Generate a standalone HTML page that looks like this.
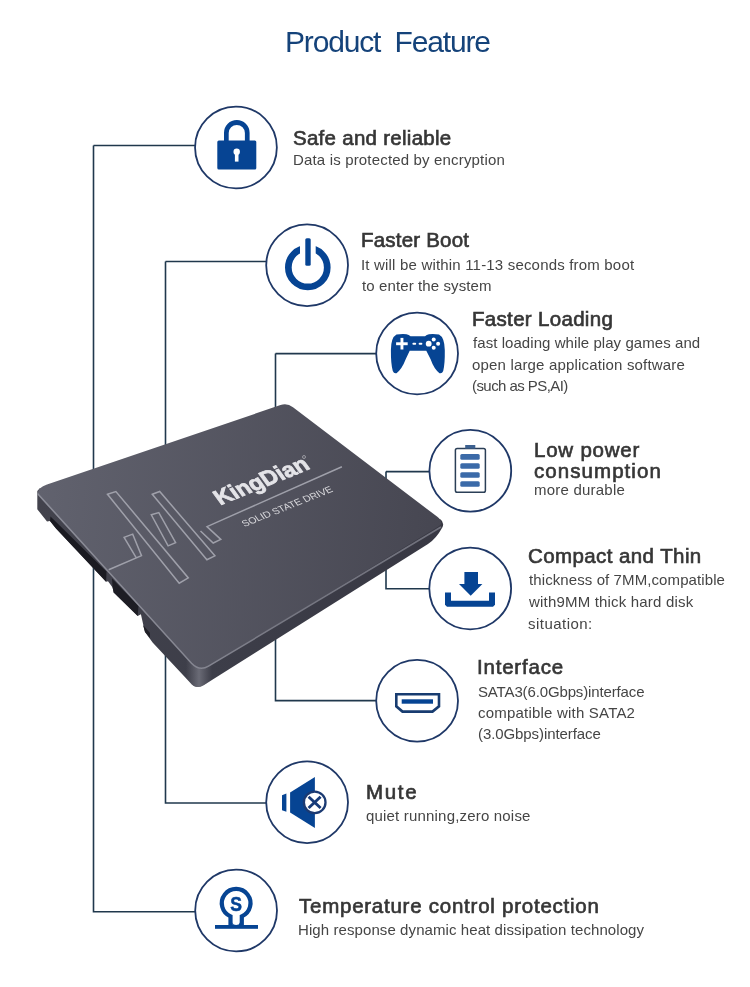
<!DOCTYPE html>
<html><head><meta charset="utf-8">
<style>
html,body{margin:0;padding:0;background:#fff;}
body{width:750px;height:987px;position:relative;overflow:hidden;font-family:"Liberation Sans",sans-serif;}
svg{position:absolute;left:0;top:0;will-change:transform;}
.t{position:absolute;white-space:nowrap;will-change:transform;}
</style></head><body>
<svg width="750" height="987" viewBox="0 0 750 987">
<g fill="none" stroke="#20384d" stroke-width="1.6">
<path d="M93.5 145.5 H195 M93.5 145.5 V911.8 H195" /><path d="M165.5 261.5 H266 M165.5 261.5 V803 H266" /><path d="M275.5 353.6 H376 M275.5 353.6 V700.6 H376" /><path d="M386 471.6 H429 M386 471.6 V588.7 H429" />
</g>

<defs>
<linearGradient id="top" gradientUnits="userSpaceOnUse" x1="38" y1="490" x2="445" y2="521">
<stop offset="0" stop-color="#61626e"/><stop offset="1" stop-color="#464651"/>
</linearGradient>
<linearGradient id="side" gradientUnits="userSpaceOnUse" x1="38" y1="500" x2="440" y2="530">
<stop offset="0" stop-color="#43434d"/><stop offset="0.45" stop-color="#3d3e49"/><stop offset="1" stop-color="#383843"/>
</linearGradient>
<linearGradient id="shine" gradientUnits="userSpaceOnUse" x1="186" y1="0" x2="212" y2="0">
<stop offset="0" stop-color="#6a6a75" stop-opacity="0"/><stop offset="0.5" stop-color="#6f707b" stop-opacity="0.9"/><stop offset="1" stop-color="#6a6a75" stop-opacity="0"/>
</linearGradient>
</defs>
<!-- side face -->
<clipPath id="sideclip"><path d="M37.3 491 L37.3 509.3 L47 521.5 L50 521 L56 528.5 L106 581.8 L108 581.2 L112.6 587.6 L113.7 592.4 L137.7 616 L140.9 614.3 L144 628 L145 632 L152.6 642.5 L190 682.5 Q196 690 204 685 L428 544 Q436 539 442.6 527 Q444.5 522 440 519 L199 662 L40 488 Z"/></clipPath>
<path fill="url(#side)" d="M37.3 491 L37.3 509.3 L47 521.5 L50 521 L56 528.5 L106 581.8 L108 581.2 L112.6 587.6 L113.7 592.4 L137.7 616 L140.9 614.3 L144 628 L145 632 L152.6 642.5 L190 682.5 Q196 690 204 685 L428 544 Q436 539 442.6 527 Q444.5 522 440 519 L199 662 L40 488 Z"/>
<!-- connectors -->
<path fill="#1b1b22" d="M50.5 516.5 L106.5 571.5 L106.1 581.8 L56 528.5 L50 521 Z"/>
<path fill="#1d1d24" d="M112 578.5 L138.5 606 L137.7 616 L113.7 592.4 L112.6 587.6 Z"/>
<path fill="#202027" d="M143 625 L150 633 L150 638 L145 632 Z"/>
<g clip-path="url(#sideclip)"><rect x="180" y="660" width="36" height="35" fill="url(#shine)"/></g>
<!-- top surface -->
<path fill="url(#top)" d="M47 484.5 L280.5 405.1 Q287.2 402.9 293 407.2 L437 516.6 Q444.9 522.6 437.5 527.1 L208 666.8 Q199.5 672.2 191.5 663.5 L40 497.5 Q33.5 489.5 47 484.5 Z"/>
<linearGradient id="hl" gradientUnits="userSpaceOnUse" x1="38" y1="0" x2="441" y2="0"><stop offset="0" stop-color="#8c8d98"/><stop offset="0.4" stop-color="#858691"/><stop offset="0.6" stop-color="#777883"/><stop offset="1" stop-color="#70717c"/></linearGradient>
<path fill="none" stroke="url(#hl)" stroke-width="1.5" d="M37.5 493.5 L191.5 663.3 Q199.5 671.6 208.5 666.2 L441 527"/>
<g fill="none" stroke="#9fa0aa" stroke-width="1.5">
<path d="M107.5 494.3 L115.9 491.5 L188.3 577.9 L179.2 583.2 Z"/>
<path d="M152.3 494.3 L159.7 491.5 L214.9 555.8 L206.9 559.7 Z"/>
<path d="M151.3 514.8 L158.8 512.6 L175.6 542.7 L168.1 545.9 Z"/>
<path d="M108.7 569.7 L141.5 555.6 L132.7 534.1 L124.1 537.3 L136.3 557.9"/>
<path d="M341.9 466.7 L207 526.6 L220.8 539.4 L213.2 543 L200.5 531"/>
</g>
<text transform="translate(220.3 505.2) rotate(-22) skewX(14)" font-family="Liberation Sans, sans-serif" font-weight="bold" font-size="22" fill="#e4e4e8" stroke="#e4e4e8" stroke-width="0.8" textLength="98" lengthAdjust="spacingAndGlyphs">KingDian</text>
<text transform="translate(244.5 526.9) rotate(-21.7) skewX(14)" font-family="Liberation Sans, sans-serif" font-size="9.5" fill="#d8d8dc" textLength="96" lengthAdjust="spacingAndGlyphs">SOLID STATE DRIVE</text>
<circle cx="304" cy="457" r="1.5" fill="none" stroke="#c8c8cc" stroke-width="0.6"/>

<circle cx="235.95" cy="147.45" r="40.9" fill="#fff" stroke="#1f3867" stroke-width="1.8"/><circle cx="307.1" cy="265.3" r="40.9" fill="#fff" stroke="#1f3867" stroke-width="1.8"/><circle cx="417.1" cy="353.5" r="40.9" fill="#fff" stroke="#1f3867" stroke-width="1.8"/><circle cx="470.3" cy="470.7" r="40.9" fill="#fff" stroke="#1f3867" stroke-width="1.8"/><circle cx="470.2" cy="588.5" r="40.9" fill="#fff" stroke="#1f3867" stroke-width="1.8"/><circle cx="417.1" cy="700.7" r="40.9" fill="#fff" stroke="#1f3867" stroke-width="1.8"/><circle cx="307.1" cy="802.3" r="40.9" fill="#fff" stroke="#1f3867" stroke-width="1.8"/><circle cx="236.1" cy="910.5" r="40.9" fill="#fff" stroke="#1f3867" stroke-width="1.8"/>
<g fill="#064493">
<path d="M224 141 V132.8 A12.8 12.8 0 0 1 249.6 132.8 V141 H244.9 V133 A8.1 8.1 0 0 0 228.7 133 V141 Z"/>
<rect x="217.3" y="140.4" width="39" height="29.2" rx="1.5"/>
</g>
<circle cx="236.7" cy="151.8" r="3.2" fill="#fff"/>
<rect x="234.9" y="152" width="3.6" height="9.6" fill="#fff"/><circle cx="307.8" cy="267.5" r="19.45" fill="none" stroke="#064493" stroke-width="6.7"/>
<rect x="300" y="240" width="15.7" height="16" fill="#fff"/>
<rect x="305.3" y="238.3" width="5.4" height="27.4" rx="1.5" fill="#064493"/><path fill="#064493" d="M396.5 334.6 Q402 333.6 406.5 334.2 Q409 334.6 410.5 336.3 H425 Q426.5 334.6 429 334.2 Q434 333.6 439 334.6 Q444.5 337.5 444.8 350 Q445 364 443.2 371 Q442 374 439.5 373.2 Q434 369 430.5 359 L426.3 350.7 H409.7 L405.8 359 Q402 369 396.5 373.2 Q394 374 392.8 371 Q390.8 364 390.9 350 Q391 337.5 396.5 334.6 Z"/>
<g fill="#fff">
<rect x="396.1" y="342.3" width="11.6" height="2.9"/>
<rect x="400.5" y="337.9" width="2.9" height="11.6"/>
<rect x="412.4" y="342.7" width="3.8" height="2.1" rx="1"/>
<rect x="418.6" y="342.7" width="3.8" height="2.1" rx="1"/>
<circle cx="428.7" cy="343.7" r="2.9"/>
<circle cx="433.7" cy="339.6" r="2"/>
<circle cx="438.1" cy="343.7" r="2"/>
<circle cx="433.7" cy="347.8" r="2"/>
</g><rect x="455.4" y="448.4" width="30" height="43.8" rx="1.8" fill="none" stroke="#2b3f57" stroke-width="1.5"/>
<rect x="465.2" y="445" width="10.1" height="3.6" fill="#3d6190"/>
<g fill="#3b6aa8">
<rect x="460.3" y="454.1" width="19.4" height="5.6" rx="1.5"/>
<rect x="460.3" y="463.2" width="19.4" height="5.6" rx="1.5"/>
<rect x="460.3" y="472.2" width="19.4" height="5.5" rx="1.5"/>
<rect x="460.3" y="481.3" width="19.4" height="5.5" rx="1.5"/>
</g><g fill="#064493">
<rect x="464.4" y="572" width="13.6" height="12.5"/>
<path d="M459 584 H482.4 L470.7 595.8 Z"/>
<path d="M445 592.4 H451 V600.8 H489 V592.4 H495 V604.8 L493 606.7 H447 L445 604.8 Z"/>
</g><path d="M396.3 694.3 H439 V706.3 L432.5 711.6 H402.5 L396.3 706.3 Z" fill="none" stroke="#183c70" stroke-width="2.6"/>
<rect x="401.7" y="699.3" width="31.3" height="4.4" fill="#064493"/><g fill="#064493">
<path d="M282 795.2 L286.4 793.6 V811.8 L282 810.3 Z"/>
<path d="M290.1 792.4 L314.9 777 V828 L290.1 812.6 Z"/>
</g>
<circle cx="314.7" cy="802.4" r="10.8" fill="#fff" stroke="#1b3a72" stroke-width="2.3"/>
<path d="M308.6 796.8 L320.6 808 M320.6 796.8 L308.6 808" stroke="#163a78" stroke-width="2.9"/><path d="M230.5 927 V916.4 A14.35 14.35 0 1 1 241.8 916.4 V927" fill="none" stroke="#064493" stroke-width="4.2"/>
<path d="M232.3 926 V922.5 Q233 925 236.1 925 Q239.3 925 240 922.5 V926 Z" fill="#064493"/>
<rect x="215" y="925" width="43" height="3.8" fill="#064493"/>
<text transform="translate(236.2 910.8) scale(0.88 1.04)" font-family="Liberation Sans, sans-serif" font-weight="bold" font-size="20" text-anchor="middle" fill="#064493" stroke="#064493" stroke-width="0.5">S</text>
</svg>
<div class="t" style="left:284.8px;top:23.50px;font-size:30px;line-height:36.0px;color:#15437a;letter-spacing:-1.16px;">Product&nbsp;&nbsp;Feature</div>
<div class="t" style="left:292.6px;top:125.60px;font-size:20.5px;line-height:24.6px;color:#363636;letter-spacing:0.275px;-webkit-text-stroke:0.65px #363636;">Safe and reliable</div>
<div class="t" style="left:292.6px;top:151.40px;font-size:15px;line-height:18.0px;color:#454545;letter-spacing:0.167px;">Data is protected by encryption</div>
<div class="t" style="left:361.0px;top:228.40px;font-size:20.5px;line-height:24.6px;color:#363636;letter-spacing:0.2px;-webkit-text-stroke:0.65px #363636;">Faster Boot</div>
<div class="t" style="left:361.0px;top:255.60px;font-size:15px;line-height:18.0px;color:#454545;letter-spacing:0.185px;">It will be within 11-13 seconds from boot</div>
<div class="t" style="left:362.0px;top:276.80px;font-size:15px;line-height:18.0px;color:#454545;letter-spacing:0.111px;">to enter the system</div>
<div class="t" style="left:472.1px;top:307.30px;font-size:20.5px;line-height:24.6px;color:#363636;letter-spacing:0.315px;-webkit-text-stroke:0.65px #363636;">Faster Loading</div>
<div class="t" style="left:473.1px;top:334.30px;font-size:15px;line-height:18.0px;color:#454545;letter-spacing:0.062px;">fast loading while play games and</div>
<div class="t" style="left:472.1px;top:355.90px;font-size:15px;line-height:18.0px;color:#454545;letter-spacing:0.173px;">open large application software</div>
<div class="t" style="left:472.1px;top:377.30px;font-size:15px;line-height:18.0px;color:#454545;letter-spacing:-0.564px;">(such as PS,AI)</div>
<div class="t" style="left:533.7px;top:437.80px;font-size:20.5px;line-height:24.6px;color:#363636;letter-spacing:0.775px;-webkit-text-stroke:0.65px #363636;">Low power</div>
<div class="t" style="left:533.7px;top:459.10px;font-size:20.5px;line-height:24.6px;color:#363636;letter-spacing:1.06px;-webkit-text-stroke:0.65px #363636;">consumption</div>
<div class="t" style="left:533.7px;top:481.40px;font-size:15px;line-height:18.0px;color:#454545;letter-spacing:0.218px;">more durable</div>
<div class="t" style="left:528.3px;top:544.10px;font-size:20.5px;line-height:24.6px;color:#363636;letter-spacing:0.407px;-webkit-text-stroke:0.65px #363636;">Compact and Thin</div>
<div class="t" style="left:529.3px;top:571.40px;font-size:15px;line-height:18.0px;color:#454545;letter-spacing:0.096px;">thickness of 7MM,compatible</div>
<div class="t" style="left:529.3px;top:592.70px;font-size:15px;line-height:18.0px;color:#454545;letter-spacing:0.186px;">with9MM thick hard disk</div>
<div class="t" style="left:528.3px;top:614.60px;font-size:15px;line-height:18.0px;color:#454545;letter-spacing:0.467px;">situation:</div>
<div class="t" style="left:476.8px;top:654.60px;font-size:20.5px;line-height:24.6px;color:#363636;letter-spacing:0.788px;-webkit-text-stroke:0.65px #363636;">Interface</div>
<div class="t" style="left:477.8px;top:682.50px;font-size:15px;line-height:18.0px;color:#454545;letter-spacing:-0.136px;">SATA3(6.0Gbps)interface</div>
<div class="t" style="left:477.8px;top:703.80px;font-size:15px;line-height:18.0px;color:#454545;letter-spacing:0.205px;">compatible with SATA2</div>
<div class="t" style="left:477.8px;top:725.10px;font-size:15px;line-height:18.0px;color:#454545;letter-spacing:-0.088px;">(3.0Gbps)interface</div>
<div class="t" style="left:366.0px;top:779.90px;font-size:20.5px;line-height:24.6px;color:#363636;letter-spacing:1.667px;-webkit-text-stroke:0.65px #363636;">Mute</div>
<div class="t" style="left:366.0px;top:806.50px;font-size:15px;line-height:18.0px;color:#454545;letter-spacing:0.187px;">quiet running,zero noise</div>
<div class="t" style="left:299.2px;top:893.90px;font-size:20.5px;line-height:24.6px;color:#363636;letter-spacing:0.752px;-webkit-text-stroke:0.65px #363636;">Temperature control protection</div>
<div class="t" style="left:298.2px;top:920.50px;font-size:15px;line-height:18.0px;color:#454545;letter-spacing:0.087px;">High response dynamic heat dissipation technology</div>

</body></html>
